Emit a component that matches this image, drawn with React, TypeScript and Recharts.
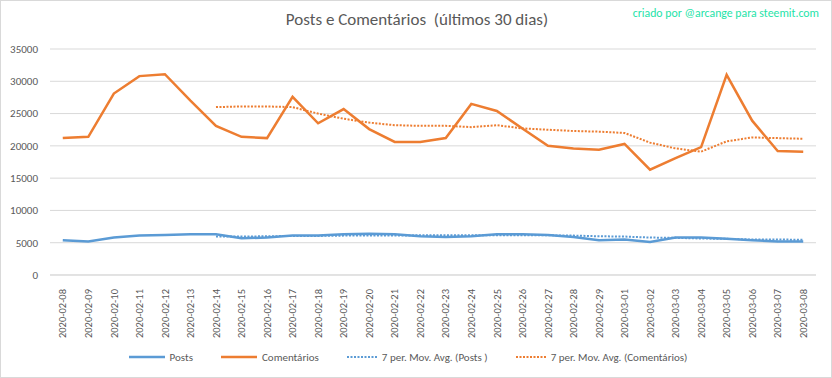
import React from "react";
import { LineChart, Line, XAxis, YAxis, CartesianGrid, Legend } from "recharts";

const days = [
  "2020-02-08", "2020-02-09", "2020-02-10", "2020-02-11", "2020-02-12", "2020-02-13",
  "2020-02-14", "2020-02-15", "2020-02-16", "2020-02-17", "2020-02-18", "2020-02-19",
  "2020-02-20", "2020-02-21", "2020-02-22", "2020-02-23", "2020-02-24", "2020-02-25",
  "2020-02-26", "2020-02-27", "2020-02-28", "2020-02-29", "2020-03-01", "2020-03-02",
  "2020-03-03", "2020-03-04", "2020-03-05", "2020-03-06", "2020-03-07", "2020-03-08",
];

const posts = [
  5400, 5200, 5800, 6100, 6200, 6300, 6300, 5700, 5800, 6100, 6100, 6300, 6400, 6300, 6000,
  5900, 6000, 6300, 6300, 6200, 5900, 5400, 5500, 5100, 5800, 5800, 5600, 5400, 5200, 5200,
];

const comentarios = [
  21200, 21400, 28100, 30800, 31100, 27000, 23100, 21400, 21200, 27600, 23500, 25700, 22600, 20600, 20600,
  21200, 26500, 25400, 22700, 20000, 19600, 19400, 20300, 16300, 18100, 19800, 31000, 23900, 19200, 19100,
];

// 7 per. moving averages (first 6 days have none)
const postsAvg = [
  null, null, null, null, null, null, 5950, 5950, 6000, 6050, 6050, 6100, 6100, 6100, 6150,
  6150, 6150, 6150, 6150, 6150, 6100, 6000, 5950, 5800, 5750, 5650, 5600, 5500, 5500, 5450,
];

const comentariosAvg = [
  null, null, null, null, null, null, 26000, 26100, 26100, 26000, 25000, 24200, 23600, 23200, 23100,
  23100, 22900, 23200, 22700, 22500, 22300, 22200, 22000, 20500, 19600, 19100, 20700, 21300, 21200, 21100,
];

const yTicks = [0, 5000, 10000, 15000, 20000, 25000, 30000, 35000];

const BLUE = "#5b9bd5";
const ORANGE = "#ed7d31";
const TXT = "#595959";
const GRID = "#d9d9d9";
const FONT = "Carlito, Calibri, Lato, sans-serif";

const data = days.map((d, i) => ({
  day: d,
  posts: posts[i],
  comentarios: comentarios[i],
  postsAvg: postsAvg[i],
  comentariosAvg: comentariosAvg[i],
}));

function DayTick(props: any) {
  const { x, y, payload } = props;
  const ty = y + 6;
  return (
    <text x={x} y={ty} transform={`rotate(-90, ${x}, ${ty})`} textAnchor="end" dy="0.35em"
      fill={TXT} fontSize={10.5} fontFamily={FONT}>
      {payload.value}
    </text>
  );
}

const legendItems = [
  { label: "Posts", color: BLUE, dotted: false },
  { label: "Comentários", color: ORANGE, dotted: false },
  { label: "7 per. Mov. Avg. (Posts )", color: BLUE, dotted: true },
  { label: "7 per. Mov. Avg. (Comentários)", color: ORANGE, dotted: true },
];

function ChartLegend() {
  return (
    <div style={{ display: "flex", justifyContent: "center", alignItems: "center", height: 20, gap: 28 }}>
      {legendItems.map(it => (
        <div key={it.label} style={{ display: "flex", alignItems: "center" }}>
          <svg width={it.dotted ? 30 : 36} height={6} style={{ marginRight: 5 }}>
            <line x1={0} y1={3} x2={it.dotted ? 30 : 36} y2={3} stroke={it.color}
              strokeWidth={it.dotted ? 2 : 2.5} strokeDasharray={it.dotted ? "2 1.5" : undefined} />
          </svg>
          <span style={{ color: TXT, fontSize: 11, fontFamily: FONT }}>{it.label}</span>
        </div>
      ))}
    </div>
  );
}

export default function App() {
  return (
    <div style={{ position: "absolute", left: 0, top: 0, width: 832, height: 378, boxSizing: "border-box",
      border: `1px solid ${GRID}`, background: "#fff" }}>
      <div style={{ position: "absolute", left: 0, width: 832, top: 8, textAlign: "center",
        fontFamily: FONT, fontSize: 17, color: TXT }}>
        Posts e Comentários&nbsp; (últimos 30 dias)
      </div>
      <div style={{ position: "absolute", right: 12, top: 5, fontFamily: FONT, fontSize: 11.8, color: "#1ee3a8" }}>
        criado por @arcange para steemit.com
      </div>
      <div style={{ position: "absolute", left: -1, top: -1 }}>
        <LineChart width={832} height={378} data={data} margin={{ top: 49, right: 16, left: 0, bottom: 11 }}>
          <CartesianGrid stroke={GRID} vertical={false} />
          <XAxis dataKey="day" interval={0} height={72} tick={<DayTick />} tickLine={false}
            axisLine={{ stroke: GRID }} padding={{ left: 12.77, right: 12.77 }} />
          <YAxis domain={[0, 35000]} ticks={yTicks} width={50} axisLine={false} tickLine={false}
            tick={{ fill: TXT, fontSize: 11, fontFamily: FONT, dx: -4 }} />
          <Legend verticalAlign="bottom" content={<ChartLegend />} />
          <Line type="linear" dataKey="posts" stroke={BLUE} strokeWidth={2.5} dot={false} isAnimationActive={false} />
          <Line type="linear" dataKey="comentarios" stroke={ORANGE} strokeWidth={2.5} dot={false} isAnimationActive={false} />
          <Line type="linear" dataKey="postsAvg" stroke={BLUE} strokeWidth={2} strokeDasharray="2 1.5" dot={false} isAnimationActive={false} />
          <Line type="linear" dataKey="comentariosAvg" stroke={ORANGE} strokeWidth={2} strokeDasharray="2 1.5" dot={false} isAnimationActive={false} />
        </LineChart>
      </div>
    </div>
  );
}
